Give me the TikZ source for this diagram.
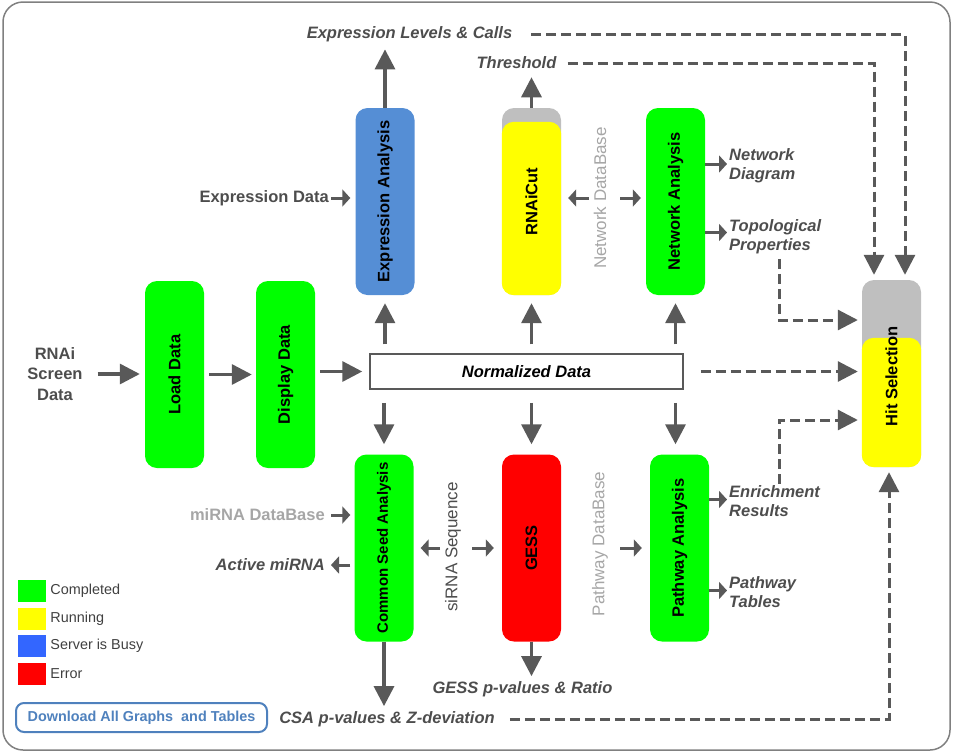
\documentclass[tikz,border=0pt]{standalone}
\usepackage{fontspec}
\setmainfont{Liberation Sans}
\usetikzlibrary{arrows.meta}

\definecolor{arrgray}{RGB}{89,89,89}
\definecolor{txtgray}{RGB}{77,77,77}
\definecolor{leggray}{RGB}{64,64,64}
\definecolor{dbgray}{RGB}{166,166,166}
\definecolor{topgray}{RGB}{191,191,191}
\definecolor{framegray}{RGB}{128,128,128}
\definecolor{okgreen}{RGB}{0,255,0}
\definecolor{runyellow}{RGB}{255,255,0}
\definecolor{errred}{RGB}{255,0,0}
\definecolor{busyblue}{RGB}{51,102,255}
\definecolor{expblue}{RGB}{85,142,213}
\definecolor{btnblue}{RGB}{79,129,189}

\begin{document}
\begin{tikzpicture}[x=1pt, y=-1pt,
  every node/.style={inner sep=0pt},
  proc/.style={rectangle, rounded corners=12pt, minimum width=59pt, minimum height=187pt,
    font=\fontsize{16.5}{19}\selectfont\bfseries},
  proctxt/.style={font=\fontsize{16.5}{19}\selectfont\bfseries},
  outlbl/.style={font=\fontsize{16.5}{19}\selectfont\bfseries\itshape, text=txtgray, align=left},
  inlbl/.style={font=\fontsize{16.5}{20.5}\selectfont\bfseries, text=txtgray, align=center},
  dblbl/.style={font=\fontsize{17}{19}\selectfont, text=dbgray, rotate=90},
  legbox/.style={minimum width=28pt, minimum height=22pt},
  legtxt/.style={font=\fontsize{14.4}{17}\selectfont, text=leggray},
  bigarrow/.style={draw=arrgray, line width=3.3pt, -{Triangle[length=20pt, width=20pt]}},
  smallarrow/.style={draw=arrgray, line width=3pt, -{Triangle[length=8pt, width=17pt]}},
  dashline/.style={draw=arrgray, line width=3pt, dash pattern=on 10pt off 5pt,
    -{Triangle[length=20pt, width=20pt]}},
  ]
  \useasboundingbox (0,0) rectangle (954,753);

  % ---- frame ----
  \draw[framegray, line width=1.5pt, rounded corners=20pt] (3,2) rectangle (950,750);

  % ---- analysis boxes ----
  \node[proc, fill=okgreen] (load) at (174.5,374.5) {\rotatebox{90}{Load Data}};
  \node[proc, fill=okgreen] (disp) at (285.5,374.5) {\rotatebox{90}{Display Data}};
  \node[draw=arrgray, line width=1.5pt, minimum width=313pt, minimum height=35pt,
    font=\fontsize{16.5}{19}\selectfont\bfseries\itshape] (norm) at (526.5,371.5)
    {Normalized Data\hspace{8pt}};

  \node[proc, fill=expblue] (expan) at (385,201.5) {\rotatebox{90}{Expression Analysis}};
  \node[proc, fill=topgray] (rnai) at (531.5,201.5) {};
  \fill[runyellow, rounded corners=12pt] ([yshift=-14pt]rnai.north west) rectangle (rnai.south east);
  \node[proctxt] at (rnai) {\rotatebox{90}{RNAiCut}};
  \node[proc, fill=okgreen] (netan) at (675.5,201.5) {\rotatebox{90}{Network Analysis}};

  \node[proc, fill=okgreen, font=\fontsize{15}{17}\selectfont\bfseries] (csa) at (384,548)
    {\rotatebox{90}{Common Seed Analysis}};
  \node[proc, fill=errred] (gess) at (531.5,548) {\rotatebox{90}{GESS}};
  \node[proc, fill=okgreen] (path) at (679.5,548) {\rotatebox{90}{Pathway Analysis}};

  % hit selection: grey (waiting) top, yellow (running) part below
  \node[proc, fill=topgray] (hit) at (891.5,373.5) {};
  \fill[runyellow, rounded corners=12pt] ([yshift=-58pt]hit.north west) rectangle (hit.south east);
  \node[proctxt] at ([yshift=-3pt]hit.center) {\rotatebox{90}{Hit Selection}};

  % ---- inputs and outputs ----
  \node[inlbl] (screen) at (55,374) {RNAi\\Screen\\Data};
  \node[inlbl, anchor=east] (expdata) at (329,198) {Expression Data};
  \node[inlbl, anchor=east, text=dbgray] (mirdb) at (325,515) {miRNA DataBase};
  \node[outlbl, anchor=east] (amirna) at (325,565) {Active miRNA};
  \node[outlbl] (expcalls) at (409.5,34.5) {Expression Levels \& Calls};
  \node[outlbl] (thr) at (516.5,63) {Threshold};
  \node[outlbl, anchor=west] (netdiag) at (729,166) {Network\\Diagram};
  \node[outlbl, anchor=west] (topo) at (729,236.5) {Topological\\Properties};
  \node[outlbl, anchor=west] (enr) at (729,501.5) {Enrichment\\Results};
  \node[outlbl, anchor=west] (ptab) at (729,592.5) {Pathway\\Tables};
  \node[outlbl] (gessp) at (522.5,689) {GESS p-values \& Ratio};
  \node[outlbl] (csap) at (387,719) {CSA p-values \& Z-deviation};
  \node[dblbl] (netdb) at (600,198) {Network DataBase};
  \node[dblbl] (pathdb) at (600,544) {Pathway DataBase};
  \node[dblbl, text=txtgray] (sirna) at (453,547) {siRNA Sequence};

  % ---- main flow ----
  \draw[bigarrow, shorten <=15pt, shorten >=5pt] (screen.east) -- (screen.east -| load.west);
  \draw[bigarrow, shorten <=5pt, shorten >=4pt] (load) -- (disp);
  \draw[bigarrow, shorten <=5pt, shorten >=7pt] (disp.east |- norm) -- (norm.west);
  \foreach \b in {expan, rnai, netan}
    \draw[bigarrow, shorten <=9pt, shorten >=8pt] (norm.north -| \b) -- (\b.south);
  \draw[bigarrow, shorten <=13pt, shorten >=10pt] (norm.south -| csa) -- (csa.north);
  \draw[bigarrow, shorten <=13pt, shorten >=10pt] (norm.south -| gess) -- (gess.north);
  \draw[bigarrow, shorten <=13pt, shorten >=10pt] (norm.south -| netan) -- (netan |- path.north);

  % outputs up and down
  \draw[bigarrow, shorten >=7pt] (expan.north) -- (expan.north |- expcalls.south);
  \draw[bigarrow, shorten >=8pt] (rnai.north) -- (rnai.north |- thr.south);
  \draw[bigarrow, shorten >=5pt] (gess.south) -- (gess.south |- gessp.north);
  \draw[bigarrow, shorten >=5pt] (csa.south) -- (csa.south |- csap.north);

  % ---- side arrows ----
  \draw[smallarrow, shorten <=2pt, shorten >=5pt] (expdata.east) -- (expdata.east -| expan.west);
  \draw[smallarrow, shorten <=6pt, shorten >=4pt] (mirdb.east) -- (mirdb.east -| csa.west);
  \draw[smallarrow, shorten <=4pt, shorten >=6pt] (amirna.east -| csa.west) -- (amirna.east);
  \draw[smallarrow, shorten <=11pt, shorten >=7pt] (netdb.center) -- (netdb.center -| rnai.east);
  \draw[smallarrow, shorten <=20pt, shorten >=5pt] (netdb.center) -- (netdb.center -| netan.west);
  \draw[smallarrow, shorten <=13pt, shorten >=7pt] (sirna.center |- gess) -- (csa.east |- gess);
  \draw[smallarrow, shorten <=19pt, shorten >=8pt] (sirna.center |- gess) -- (gess.west);
  \draw[smallarrow, shorten <=20pt, shorten >=8pt] (pathdb.center |- path) -- (path.west);
  \draw[smallarrow, shorten >=2pt] ([yshift=2pt]netan.east |- netdiag) -- ([yshift=2pt]netdiag.west);
  \draw[smallarrow, shorten >=2pt] ([yshift=4pt]netan.east |- topo) -- ([yshift=4pt]topo.west);
  \draw[smallarrow, shorten >=2pt] ([yshift=2pt]path.east |- enr) -- ([yshift=2pt]enr.west);
  \draw[smallarrow, shorten >=2pt] ([yshift=2pt]path.east |- ptab) -- ([yshift=2pt]ptab.west);

  % ---- dashed links to hit selection ----
  \draw[dashline, shorten <=19pt, shorten >=5pt] (expcalls.east) -| ([xshift=13.5pt]hit.north);
  \draw[dashline, shorten <=11pt, shorten >=5pt] (thr.east) -| ([xshift=-17.5pt]hit.north);
  \draw[dashline, shorten >=4pt] ([xshift=50pt, yshift=-5pt]topo.south west) |- ([yshift=53.5pt]hit.west);
  \draw[dashline, shorten <=17pt, shorten >=4pt] (norm.east) -- (norm -| hit.west);
  \draw[dashline, shorten >=4pt] ([xshift=50pt, yshift=2pt]enr.north west) |- ([yshift=-46.5pt]hit.west);
  \draw[dashline, shorten <=15pt, shorten >=5pt] (csap.east) -| ([xshift=-2.5pt]hit.south);

  % ---- legend ----
  \foreach \col/\txt [count=\i] in {okgreen/Completed, runyellow/Running, busyblue/Server is Busy, errred/Error} {
    \node[legbox, fill=\col] (leg\i) at (32,563.5+27.5*\i) {};
    \node[legtxt, anchor=west] (legt\i) at ([xshift=4pt]leg\i.east) {\txt};
  }

  % download button
  \node[draw=btnblue, line width=2pt, rounded corners=8pt, minimum width=251pt, minimum height=29pt,
    text=btnblue, font=\fontsize{14.4}{17}\selectfont\bfseries] (dl) at (141.5,717.5)
    {Download All Graphs\ \ and Tables};

\end{tikzpicture}
\end{document}
